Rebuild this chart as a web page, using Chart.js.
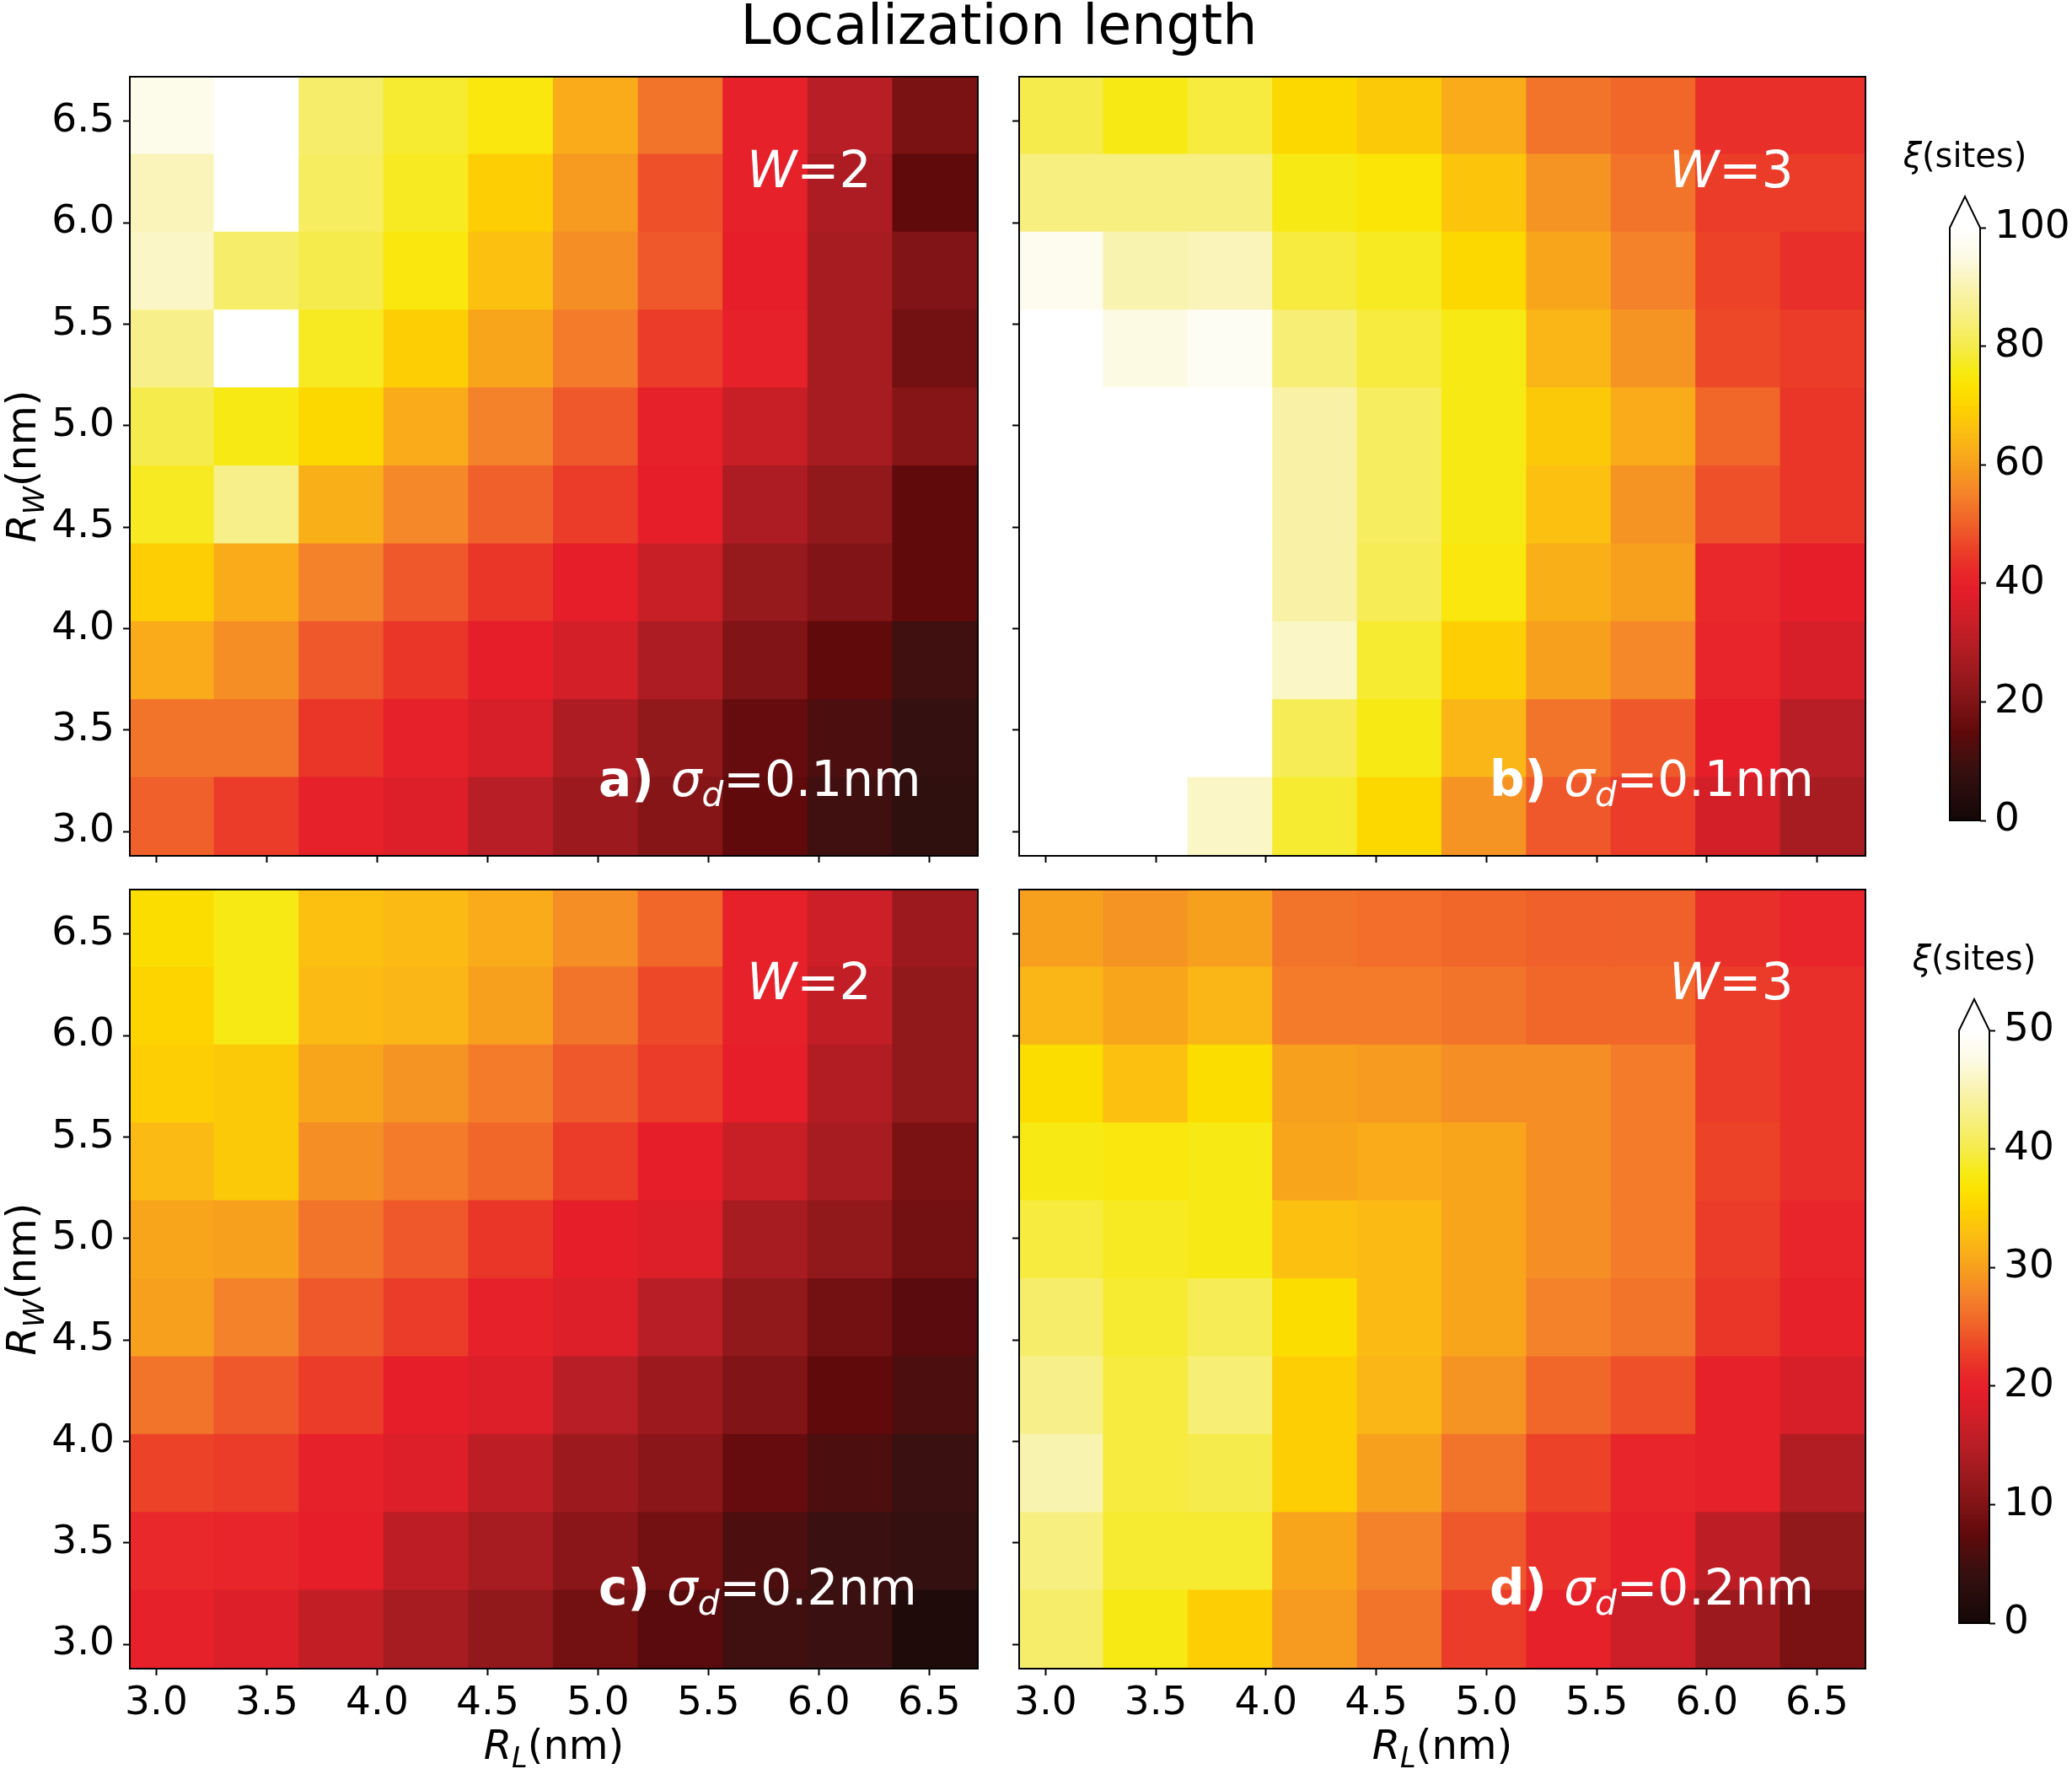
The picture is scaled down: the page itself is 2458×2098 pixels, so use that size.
<!DOCTYPE html>
<html lang="en">
<head>
<meta charset="UTF-8">
<title>Localization length</title>
<script src="https://cdn.jsdelivr.net/npm/chart.js"></script>
<style>
  body { margin: 0; background: #fff; }
  #fig { position: relative; width: 2458px; height: 2098px; background: #fff; overflow: hidden; }
  #fig canvas { position: absolute; }
  #title { position: absolute; left: 0; top: -3px; width: 2370px; text-align: center;
           font: 65px/65px "DejaVu Sans"; color: #000; }
</style>
</head>
<body>
<div id="fig">
  <div id="title">Localization length</div>
  <canvas id="pa" width="1190" height="1014" style="left:0;top:46px"></canvas>
  <canvas id="pb" width="1050" height="1014" style="left:1190px;top:46px"></canvas>
  <canvas id="pc" width="1190" height="1088" style="left:0;top:1010px"></canvas>
  <canvas id="pd" width="1050" height="1088" style="left:1190px;top:1010px"></canvas>
  <canvas id="cb1" width="218" height="890" style="left:2240px;top:130px"></canvas>
  <canvas id="cb2" width="218" height="890" style="left:2240px;top:1082px"></canvas>
</div>

<script>
// cell centres (nm), same grid on both axes
const RL = [3.072, 3.456, 3.840, 4.224, 4.608, 4.992, 5.376, 5.760, 6.144, 6.528];
const RW = [3.072, 3.456, 3.840, 4.224, 4.608, 4.992, 5.376, 5.760, 6.144, 6.528];
const AXIS_TICKS = [3.0, 3.5, 4.0, 4.5, 5.0, 5.5, 6.0, 6.5];
const CB_TICKS_1 = [0, 20, 40, 60, 80, 100];
const CB_TICKS_2 = [0, 10, 20, 30, 40, 50];

// xi (sites); each row is one R_W, listed from top (R_W = 6.5) down to bottom (R_W = 3.1)
const XI_A = [
  [96, 110, 83, 78, 75, 62, 53, 40, 30, 19],
  [91, 110, 82, 77, 69, 59, 48, 40, 28, 15],
  [92, 83, 80, 75, 66, 57, 49, 39, 27, 20],
  [86, 110, 77, 69, 61, 54, 45, 40, 27, 18],
  [80, 76, 71, 62, 55, 49, 40, 33, 27, 21],
  [77, 86, 63, 56, 50, 45, 39, 28, 23, 15],
  [69, 62, 55, 49, 44, 39, 33, 24, 20, 15],
  [62, 57, 49, 44, 39, 35, 28, 20, 15, 10],
  [53, 53, 44, 40, 36, 28, 23, 16, 12, 8],
  [50, 45, 40, 37, 30, 25, 21, 15, 10, 7]
];
const XI_B = [
  [80, 76, 79, 71, 68, 62, 53, 51, 43, 43],
  [85, 85, 85, 76, 74, 67, 58, 53, 45, 45],
  [97, 90, 91, 79, 77, 71, 61, 55, 46, 43],
  [110, 95, 98, 84, 79, 76, 64, 58, 47, 45],
  [110, 110, 105, 89, 82, 76, 68, 62, 51, 44],
  [110, 110, 110, 89, 82, 76, 66, 58, 48, 44],
  [110, 110, 110, 89, 81, 75, 63, 60, 42, 39],
  [110, 110, 110, 92, 78, 69, 60, 56, 41, 36],
  [110, 110, 110, 81, 76, 64, 53, 49, 39, 30],
  [110, 110, 92, 78, 71, 58, 49, 45, 35, 27]
];
const XI_C = [
  [36, 38, 33, 32.5, 31, 28.5, 25.5, 20, 17, 12.5],
  [35, 38, 32.5, 32, 30, 26.5, 23.5, 20, 16, 11.5],
  [34.5, 34, 30.5, 29, 27, 24.5, 22.5, 19.5, 14.5, 11.5],
  [32.5, 34, 28.5, 27, 25.5, 22.5, 19.5, 16.5, 13.5, 9.5],
  [30.5, 30, 26.5, 24.5, 22, 19.5, 18.5, 13.5, 11.5, 9],
  [30, 27.5, 24.5, 22.5, 20, 18.5, 15, 11.5, 9, 7],
  [26.5, 24.5, 22.5, 19.5, 18.5, 15, 12.5, 10, 7.5, 6],
  [23, 22.5, 20, 18.5, 15.5, 12.5, 11, 8, 6, 4.5],
  [21, 20.5, 19.5, 15.5, 13.5, 11, 9, 6, 4.5, 4],
  [20, 18.5, 16, 13.5, 11.5, 9, 7, 5, 4.5, 1.5]
];
const XI_D = [
  [30, 29, 30, 26.5, 26, 25.5, 25, 25, 21.5, 20.5],
  [32, 30.5, 32, 27, 27, 26.5, 25.5, 25.5, 22.5, 21.5],
  [36, 33, 36, 30, 29.5, 28.5, 28.5, 27, 22.5, 21.5],
  [38, 37.5, 38, 30.5, 31, 30.5, 28.5, 27, 23, 21.5],
  [39.5, 38.5, 38, 33, 32.5, 30.5, 28.5, 27, 22.5, 20.5],
  [41.5, 39, 40.5, 36, 32.5, 30.5, 27.5, 26.5, 22, 20],
  [43, 39.5, 42, 34.5, 32, 29, 25.5, 24, 20, 18],
  [45, 39.5, 40, 34.5, 30, 26.5, 23, 20.5, 20, 14.5],
  [42.5, 39, 39, 30.5, 27.5, 24.5, 21.5, 20, 15.5, 11.5],
  [41.5, 38, 34.5, 29.5, 26.5, 22.5, 20, 17, 12.5, 9.5]
];

const FONT = '"DejaVu Sans"';

// black -> dark red -> red -> orange -> yellow -> white
const STOPS = [
  [0.00, '#140808'], [0.04, '#240c0c'], [0.08, '#341010'], [0.12, '#4c0e0e'],
  [0.15, '#600a0c'], [0.20, '#801416'], [0.25, '#9c1a1e'], [0.30, '#b81e25'],
  [0.35, '#d21f28'], [0.39, '#e51e2a'], [0.42, '#e8282a'], [0.46, '#ec4228'],
  [0.50, '#f0602a'], [0.55, '#f4822a'], [0.60, '#f7a01e'], [0.65, '#fbbb14'],
  [0.70, '#fdd300'], [0.73, '#fce200'], [0.76, '#f7ea14'], [0.80, '#f5eb4c'],
  [0.85, '#f7ef80'], [0.90, '#f9f3b0'], [0.95, '#fdfae4'], [1.00, '#ffffff']
];
const hex = h => [1, 3, 5].map(i => parseInt(h.substr(i, 2), 16));
function cmap(t) {
  t = Math.max(0, Math.min(1, t));
  for (let i = 1; i < STOPS.length; i++) {
    if (t <= STOPS[i][0]) {
      const [t0, c0] = STOPS[i - 1], [t1, c1] = STOPS[i];
      const f = (t - t0) / (t1 - t0), a = hex(c0), b = hex(c1);
      return 'rgb(' + a.map((v, k) => Math.round(v + (b[k] - v) * f)).join(',') + ')';
    }
  }
  return '#ffffff';
}

// draws runs of text: [text, style]  style: i = italic, b = bold, s = subscript
function richText(ctx, x, y, parts, size, align) {
  const fontOf = p => (p[1].includes('i') ? 'italic ' : '') + (p[1].includes('b') ? 'bold ' : '') +
    (p[1].includes('s') ? size * 0.7 : size) + 'px ' + FONT;
  let w = 0;
  parts.forEach(p => { ctx.font = fontOf(p); w += ctx.measureText(p[0]).width; });
  let cx = align === 'center' ? x - w / 2 : x;
  ctx.textAlign = 'left';
  ctx.textBaseline = 'alphabetic';
  parts.forEach(p => {
    ctx.font = fontOf(p);
    ctx.fillText(p[0], cx, y + (p[1].includes('s') ? size * 0.2 : 0));
    cx += ctx.measureText(p[0]).width;
  });
}

function axis(min, max, ticks, showLabels, size, horiz, tickLen, fmt) {
  return {
    type: 'linear', min: min, max: max, offset: false,
    afterBuildTicks: s => { s.ticks = ticks.map(v => ({ value: v })); },
    afterFit: s => { if (horiz) s.height = size; else s.width = size; },
    grid: { offset: false, drawOnChartArea: false, drawTicks: true, tickLength: tickLen, tickWidth: 2, tickColor: '#000' },
    border: { display: false },
    ticks: { display: showLabels, padding: horiz ? 6 : 10, color: '#000',
             font: { family: 'DejaVu Sans', size: 47 }, callback: fmt }
  };
}

const frame = {
  id: 'frame',
  afterDraw(chart) {
    const a = chart.chartArea, ctx = chart.ctx;
    ctx.save();
    ctx.strokeStyle = '#000';
    ctx.lineWidth = 2;
    ctx.strokeRect(a.left, a.top, a.right - a.left, a.bottom - a.top);
    ctx.restore();
  }
};

function panel(id, xi, vmax, o) {
  const half = (RL[1] - RL[0]) / 2;
  const pts = [], cols = [];
  xi.forEach((row, i) => row.forEach((v, j) => {
    const rw = RW[RW.length - 1 - i];
    pts.push({ x: RL[j], y: [rw - half, rw + half] });
    cols.push(cmap(v / vmax));
  }));
  const notes = {
    id: 'notes',
    afterDraw(chart) {
      const a = chart.chartArea, ctx = chart.ctx;
      ctx.save();
      ctx.fillStyle = '#fff';
      richText(ctx, a.left + o.wPos[0], a.top + o.wPos[1], [['W', 'i'], ['=' + o.w, '']], 60);
      richText(ctx, a.left + o.tagPos[0], a.top + o.tagPos[1],
        [[o.tag + ') ', 'b'], ['σ', 'i'], ['d', 'is'], ['=' + o.sigma + 'nm', '']], 58);
      ctx.fillStyle = '#000';
      if (o.yTitle) {
        ctx.translate(42, (a.top + a.bottom) / 2);
        ctx.rotate(-Math.PI / 2);
        richText(ctx, 0, 0, [['R', 'i'], ['W', 'is'], ['(nm)', '']], 48, 'center');
        ctx.setTransform(1, 0, 0, 1, 0, 0);
      }
      if (o.xTitle) {
        richText(ctx, (a.left + a.right) / 2, o.xTitleY, [['R', 'i'], ['L', 'is'], ['(nm)', '']], 48, 'center');
      }
      ctx.restore();
    }
  };
  const fmt = v => v.toFixed(1);
  return new Chart(document.getElementById(id), {
    type: 'bar',
    data: { datasets: [{ data: pts, backgroundColor: cols, borderWidth: 0, inflateAmount: 1,
                         barPercentage: 1, categoryPercentage: 1 }] },
    options: {
      responsive: false, animation: false, devicePixelRatio: 1, events: [],
      layout: { padding: o.pad },
      plugins: { legend: { display: false }, tooltip: { enabled: false } },
      scales: {
        x: axis(RL[0] - half, RL[9] + half, AXIS_TICKS, o.xLabels, o.xH, true, 8, fmt),
        y: axis(RW[0] - half, RW[9] + half, AXIS_TICKS, o.yLabels, o.yW, false, 8, fmt)
      }
    },
    plugins: [frame, notes]
  });
}

function colorbar(id, vmax, ticks, o) {
  const bar = {
    id: 'cbar',
    afterDraw(chart) {
      const a = chart.chartArea, ctx = chart.ctx, y = chart.scales.y;
      const n = 400, cx = (a.left + a.right) / 2;
      ctx.save();
      for (let i = 0; i < n; i++) {
        const v0 = vmax * i / n, v1 = vmax * (i + 1) / n;
        ctx.fillStyle = cmap((v0 + v1) / 2 / vmax);
        const p0 = y.getPixelForValue(v0), p1 = y.getPixelForValue(v1);
        ctx.fillRect(a.left, p1 - 0.5, a.right - a.left, p0 - p1 + 1);
      }
      // extend-max arrow
      ctx.beginPath();
      ctx.moveTo(a.left, a.top);
      ctx.lineTo(cx, a.top - 37);
      ctx.lineTo(a.right, a.top);
      ctx.closePath();
      ctx.fillStyle = '#fff';
      ctx.fill();
      ctx.beginPath();
      ctx.moveTo(a.left, a.bottom);
      ctx.lineTo(a.left, a.top);
      ctx.lineTo(cx, a.top - 37);
      ctx.lineTo(a.right, a.top);
      ctx.lineTo(a.right, a.bottom);
      ctx.closePath();
      ctx.strokeStyle = '#000';
      ctx.lineWidth = 2;
      ctx.stroke();
      ctx.fillStyle = '#000';
      richText(ctx, cx, a.top - 72, [['ξ', 'i'], ['(sites)', '']], 40, 'center');
      ctx.restore();
    }
  };
  return new Chart(document.getElementById(id), {
    type: 'scatter',
    data: { datasets: [] },
    options: {
      responsive: false, animation: false, devicePixelRatio: 1, events: [],
      layout: { padding: o.pad },
      plugins: { legend: { display: false }, tooltip: { enabled: false } },
      scales: {
        x: { display: false, min: 0, max: 1 },
        y: Object.assign(axis(0, vmax, ticks, true, o.yW, false, 7, v => String(v)), { position: 'right' })
      }
    },
    plugins: [bar]
  });
}

panel('pa', XI_A, 100, { pad: { top: 45, right: 30, left: 0, bottom: 0 }, yW: 154, xH: 45,
  xLabels: false, yLabels: true, yTitle: true, w: 2, tag: 'a', sigma: '0.1',
  wPos: [732, 131], tagPos: [556, 853] });
panel('pb', XI_B, 100, { pad: { top: 45, right: 27, left: 0, bottom: 0 }, yW: 19, xH: 45,
  xLabels: false, yLabels: false, w: 3, tag: 'b', sigma: '0.1',
  wPos: [771, 131], tagPos: [558, 853] });
panel('pc', XI_C, 50, { pad: { top: 45, right: 30, left: 0, bottom: 0 }, yW: 154, xH: 119,
  xLabels: true, yLabels: true, yTitle: true, xTitle: true, xTitleY: 1076, w: 2, tag: 'c', sigma: '0.2',
  wPos: [732, 130], tagPos: [556, 848] });
panel('pd', XI_D, 50, { pad: { top: 45, right: 27, left: 0, bottom: 0 }, yW: 19, xH: 119,
  xLabels: true, yLabels: false, xTitle: true, xTitleY: 1076, w: 3, tag: 'd', sigma: '0.2',
  wPos: [771, 130], tagPos: [558, 848] });

colorbar('cb1', 100, CB_TICKS_1, { pad: { left: 73, top: 140, bottom: 47, right: 0 }, yW: 109 });
colorbar('cb2', 50, CB_TICKS_2, { pad: { left: 84, top: 140, bottom: 47, right: 0 }, yW: 98 });
</script>
</body>
</html>
